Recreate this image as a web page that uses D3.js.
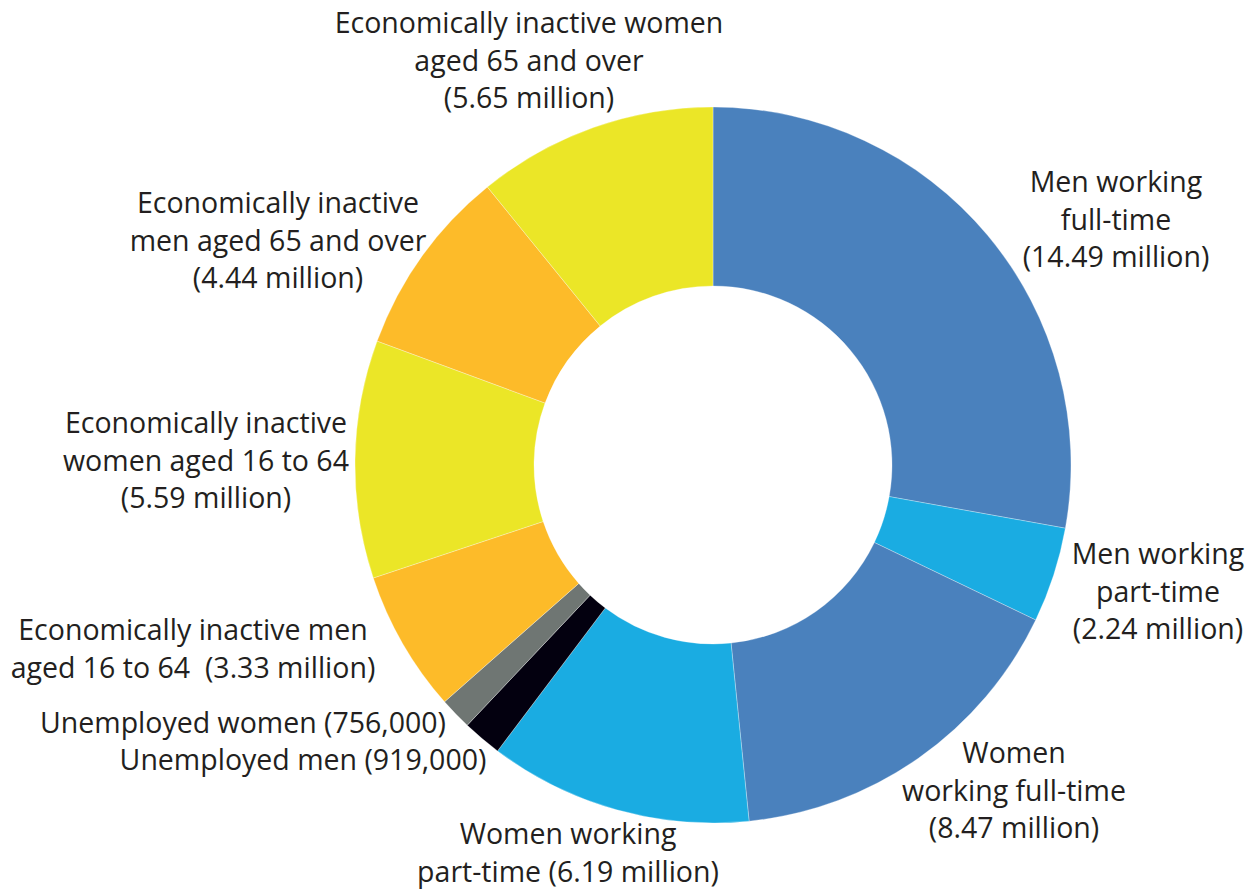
<!DOCTYPE html>
<html>
<head>
<meta charset="utf-8">
<script src="https://cdn.jsdelivr.net/npm/d3@7"></script>
<style>
  html, body { margin: 0; padding: 0; background: #ffffff; }
  svg { display: block; }
  text { font-family: "Open Sans", "Noto Sans", sans-serif; fill: #231f20; }
</style>
</head>
<body>
<svg id="chart" width="1255" height="890"></svg>
<script>
// ---- Data ----
const categories = [
  "Men working full-time",
  "Men working part-time",
  "Women working full-time",
  "Women working part-time",
  "Unemployed men",
  "Unemployed women",
  "Economically inactive men aged 16 to 64",
  "Economically inactive women aged 16 to 64",
  "Economically inactive men aged 65 and over",
  "Economically inactive women aged 65 and over"
];
const valuesMillions = [14.49, 2.24, 8.47, 6.19, 0.919, 0.756, 3.33, 5.59, 4.44, 5.65];
const labelLines = [
  ["Men working", "full-time", "(14.49 million)"],
  ["Men working", "part-time", "(2.24 million)"],
  ["Women", "working full-time", "(8.47 million)"],
  ["Women working", "part-time (6.19 million)"],
  ["Unemployed men (919,000)"],
  ["Unemployed women (756,000)"],
  ["Economically inactive men", "aged 16 to 64  (3.33 million)"],
  ["Economically inactive", "women aged 16 to 64", "(5.59 million)"],
  ["Economically inactive", "men aged 65 and over", "(4.44 million)"],
  ["Economically inactive women", "aged 65 and over", "(5.65 million)"]
];

// ---- Styling / layout (kept separate from data) ----
const colors = ["#4a81bd", "#1aace2", "#4a81bd", "#1aace2", "#03000f",
                "#6f7673", "#fdbb29", "#ebe627", "#fdbb29", "#ebe627"];
const labelAnchors = [
  {x: 1116, y: 192},
  {x: 1158, y: 564},
  {x: 1014, y: 763},
  {x: 568,  y: 844},
  {x: 303,  y: 770},
  {x: 243,  y: 733},
  {x: 193,  y: 640},
  {x: 206,  y: 433},
  {x: 278,  y: 213},
  {x: 529,  y: 33}
];
const lineHeight = 37.5;
const fontSize = 28.5;

const cx = 713, cy = 465, outerR = 358, innerR = 179;

const data = categories.map((c, i) => ({name: c, value: valuesMillions[i], i}));

const svg = d3.select("#chart");
const g = svg.append("g").attr("transform", `translate(${cx},${cy})`);

const pie = d3.pie().sort(null).value(d => d.value).startAngle(0).endAngle(2 * Math.PI);
const arc = d3.arc().innerRadius(innerR).outerRadius(outerR);

g.selectAll("path")
  .data(pie(data))
  .join("path")
  .attr("d", arc)
  .attr("fill", d => colors[d.data.i])
  .attr("stroke", "#ffffff")
  .attr("stroke-opacity", 0.5)
  .attr("stroke-width", 0.6);

const labels = svg.append("g");
data.forEach((d, i) => {
  const t = labels.append("text")
    .attr("text-anchor", "middle")
    .attr("font-size", fontSize)
    .attr("x", labelAnchors[i].x)
    .attr("y", labelAnchors[i].y);
  labelLines[i].forEach((line, k) => {
    t.append("tspan")
      .attr("x", labelAnchors[i].x)
      .attr("y", labelAnchors[i].y + k * lineHeight)
      .attr("xml:space", "preserve")
      .text(line);
  });
});
</script>
</body>
</html>
